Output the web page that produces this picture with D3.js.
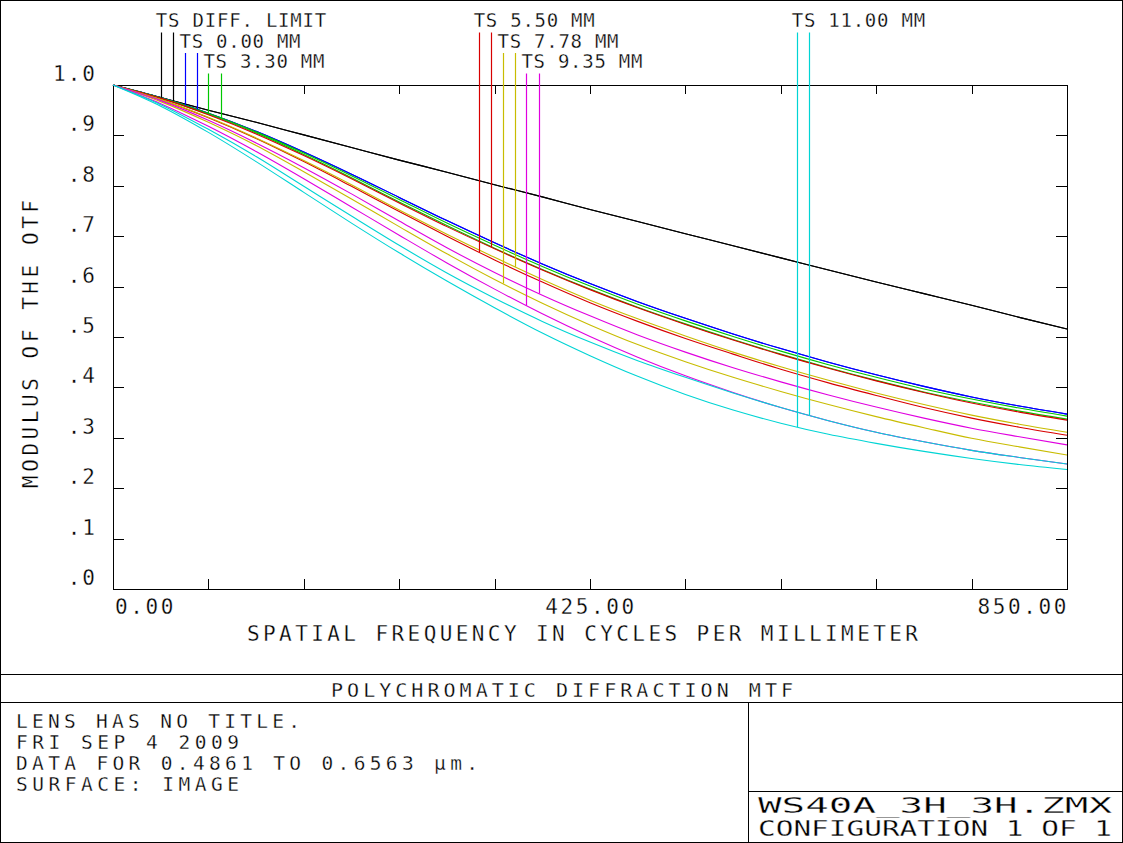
<!DOCTYPE html>
<html><head><meta charset="utf-8">
<script src="https://cdn.jsdelivr.net/npm/d3@7"></script>
<style>
html,body{margin:0;padding:0;background:#fff;}
svg{display:block;}
text{font-family:"DejaVu Sans Mono",monospace;fill:#000;stroke:#fff;stroke-width:0.3px;}
</style></head><body>
<svg id="c" width="1123" height="843"></svg>
<script>
// ---------- data ----------
const frequencies = [0,42.5,85,127.5,170,212.5,255,297.5,340,382.5,425,467.5,510,552.5,595,637.5,680,722.5,765,807.5,850];
const seriesNames = ["TS DIFF. LIMIT","TS 0.00 MM","TS 3.30 MM","TS 5.50 MM","TS 7.78 MM","TS 9.35 MM","TS 11.00 MM"];
const seriesColors = ["#000000","#0000ff","#00c800","#d80000","#c8bc00","#e000e0","#00d4d4"];
const mtfDiffT = [1.000,0.975,0.950,0.926,0.901,0.876,0.851,0.827,0.802,0.778,0.753,0.729,0.705,0.681,0.657,0.633,0.609,0.586,0.563,0.539,0.516];
const mtfDiffS = [1.000,0.975,0.950,0.926,0.901,0.876,0.851,0.827,0.802,0.778,0.753,0.729,0.705,0.681,0.657,0.633,0.609,0.586,0.563,0.539,0.516];
const mtf000T = [1.000,0.975,0.944,0.908,0.867,0.823,0.777,0.731,0.687,0.645,0.606,0.570,0.537,0.506,0.477,0.450,0.425,0.402,0.381,0.363,0.347];
const mtf000S = [1.000,0.975,0.944,0.908,0.867,0.823,0.777,0.731,0.687,0.645,0.606,0.570,0.537,0.506,0.477,0.450,0.425,0.402,0.381,0.363,0.347];
const mtf330T = [1.000,0.975,0.944,0.907,0.865,0.820,0.773,0.726,0.682,0.640,0.601,0.565,0.532,0.501,0.472,0.445,0.420,0.397,0.377,0.359,0.343];
const mtf330S = [1.000,0.974,0.942,0.905,0.862,0.816,0.768,0.721,0.676,0.634,0.595,0.559,0.526,0.495,0.466,0.439,0.414,0.391,0.371,0.353,0.337];
const mtf550T = [1.000,0.971,0.935,0.894,0.848,0.799,0.749,0.700,0.653,0.609,0.568,0.531,0.497,0.466,0.436,0.409,0.384,0.360,0.339,0.321,0.305];
const mtf550S = [1.000,0.974,0.941,0.903,0.860,0.814,0.766,0.719,0.675,0.633,0.594,0.558,0.525,0.494,0.465,0.438,0.413,0.390,0.369,0.351,0.335];
const mtf778T = [1.000,0.967,0.926,0.880,0.828,0.774,0.719,0.665,0.614,0.567,0.524,0.485,0.451,0.420,0.392,0.366,0.342,0.320,0.299,0.282,0.266];
const mtf778S = [1.000,0.971,0.936,0.895,0.850,0.802,0.752,0.704,0.658,0.614,0.573,0.536,0.502,0.470,0.441,0.414,0.389,0.366,0.345,0.327,0.311];
const mtf935T = [1.000,0.963,0.918,0.868,0.814,0.758,0.702,0.647,0.595,0.546,0.501,0.460,0.423,0.390,0.360,0.334,0.311,0.292,0.275,0.261,0.248];
const mtf935S = [1.000,0.969,0.930,0.885,0.836,0.784,0.730,0.677,0.628,0.583,0.542,0.504,0.470,0.439,0.411,0.385,0.361,0.339,0.319,0.302,0.286];
const mtf1100T = [1.000,0.958,0.906,0.848,0.787,0.726,0.667,0.611,0.558,0.508,0.463,0.422,0.386,0.355,0.329,0.307,0.289,0.273,0.259,0.247,0.237];
const mtf1100S = [1.000,0.961,0.912,0.858,0.799,0.740,0.682,0.627,0.577,0.531,0.490,0.453,0.420,0.389,0.360,0.334,0.311,0.292,0.275,0.261,0.248];
const yTickValues = [0,0.1,0.2,0.3,0.4,0.5,0.6,0.7,0.8,0.9,1.0];
const yTickLabels = [".0",".1",".2",".3",".4",".5",".6",".7",".8",".9","1.0"];
const xTickValues = [0,85,170,255,340,425,510,595,680,765,850];
const xLabelValues = [0,425,850];
const xLabelTexts = ["0.00","425.00","850.00"];
const legendGroups = [[0,1,2],[3,4,5],[6]];
const legendGroupFreq = [42.5,325.83,609.17];
const infoLines = ["LENS HAS NO TITLE.","FRI SEP 4 2009","DATA FOR 0.4861 TO 0.6563 \u03bcm.","SURFACE: IMAGE"];
const fileLines = ["WS40A_3H_3H.ZMX","CONFIGURATION 1 OF 1"];

const seriesData = [
  [mtfDiffT,mtfDiffS],[mtf000T,mtf000S],[mtf330T,mtf330S],[mtf550T,mtf550S],
  [mtf778T,mtf778S],[mtf935T,mtf935S],[mtf1100T,mtf1100S]
];

// ---------- drawing ----------
const W = 1123, H = 843;
const svg = d3.select("#c");
const x = d3.scaleLinear().domain([0,850]).range([113,1067]);
const y = d3.scaleLinear().domain([0,1]).range([589,85]);

function hline(x1,x2,yy){svg.append("line").attr("x1",x1).attr("x2",x2).attr("y1",yy).attr("y2",yy).attr("stroke","#000").attr("stroke-width",1).attr("shape-rendering","crispEdges");}
function vline(xx,y1,y2){svg.append("line").attr("x1",xx).attr("x2",xx).attr("y1",y1).attr("y2",y2).attr("stroke","#000").attr("stroke-width",1).attr("shape-rendering","crispEdges");}

// outer frame and info panel
svg.append("rect").attr("x",0.5).attr("y",0.5).attr("width",W-1).attr("height",H-1)
  .attr("fill","none").attr("stroke","#000").attr("shape-rendering","crispEdges");
hline(0,W,674.5);
hline(0,W,702.5);
vline(748.5,702,H);
hline(748,W,791.5);

// plot frame
svg.append("rect").attr("x",x(0)+0.5).attr("y",y(1)+0.5).attr("width",x(850)-x(0)).attr("height",y(0)-y(1))
  .attr("fill","none").attr("stroke","#000").attr("shape-rendering","crispEdges");

// ticks (inward)
const inner = yTickValues.slice(1,-1);
const innerX = xTickValues.slice(1,-1);
function styleAxis(g){g.select(".domain").remove();g.selectAll("line").attr("stroke","#000").attr("shape-rendering","crispEdges");}
svg.append("g").attr("transform",`translate(${x(0)},0)`).call(d3.axisLeft(y).tickValues(inner).tickSize(-11).tickFormat("")).call(styleAxis);
svg.append("g").attr("transform",`translate(${x(850)},0)`).call(d3.axisRight(y).tickValues(inner).tickSize(-11).tickFormat("")).call(styleAxis);
svg.append("g").attr("transform",`translate(0,${y(1)})`).call(d3.axisTop(x).tickValues(innerX).tickSize(-9).tickFormat("")).call(styleAxis);
svg.append("g").attr("transform",`translate(0,${y(0)})`).call(d3.axisBottom(x).tickValues(innerX).tickSize(-10).tickFormat("")).call(styleAxis);

// tick labels
svg.selectAll("text.ylab").data(yTickValues).enter().append("text")
  .attr("class","ylab").attr("x",97).attr("y",d=>y(d)-4)
  .attr("text-anchor","end").style("font-size","21px").style("letter-spacing","2px")
  .text((d,i)=>yTickLabels[i]);
svg.selectAll("text.xlab").data(xLabelValues).enter().append("text")
  .attr("class","xlab")
  .attr("x",(d,i)=> i===0 ? x(d)+2 : (i===1 ? x(d)+1 : x(d)+2))
  .attr("y",614)
  .attr("text-anchor",(d,i)=>["start","middle","end"][i])
  .style("font-size","21px").style("letter-spacing","2.6px")
  .text((d,i)=>xLabelTexts[i]);

// axis titles
svg.append("text").attr("x",247).attr("y",641).attr("textLength",671).attr("lengthAdjust","spacing")
  .style("font-size","21px").text("SPATIAL FREQUENCY IN CYCLES PER MILLIMETER");
svg.append("text").attr("transform","translate(38,488) rotate(-90)").attr("textLength",288).attr("lengthAdjust","spacing")
  .style("font-size","21px").text("MODULUS OF THE OTF");

// curves
const lineGen = d3.line().x((d,i)=>x(frequencies[i])).y(d=>y(d)).curve(d3.curveMonotoneX);
const curveG = svg.append("g");
seriesData.forEach((pair,si)=>{
  pair.forEach(arr=>{
    curveG.append("path").attr("d",lineGen(arr)).attr("fill","none")
      .attr("stroke",seriesColors[si]).attr("stroke-width",1.1);
  });
});

// interpolation of curve value at a frequency (for legend leader lines)
function valueAt(arr,f){
  const i = Math.min(frequencies.length-2, d3.bisectRight(frequencies,f)-1);
  const t = (f-frequencies[i])/(frequencies[i+1]-frequencies[i]);
  return arr[i]+(arr[i+1]-arr[i])*t;
}

// legend
const stepFreq = 21.25, tsOffset = 11;
legendGroups.forEach((grp,gi)=>{
  grp.forEach((si,row)=>{
    const fT = legendGroupFreq[gi] + row*stepFreq;
    const fS = fT + tsOffset;
    const base = 27 + row*20.5;
    const top = base + 5.5;
    [[fT,seriesData[si][0]],[fS,seriesData[si][1]]].forEach(([f,arr])=>{
      const xx = Math.round(x(f))+0.5;
      svg.append("line").attr("x1",xx).attr("x2",xx).attr("y1",top).attr("y2",y(valueAt(arr,f)))
        .attr("stroke",seriesColors[si]).attr("stroke-width",1.2);
    });
    const name = seriesNames[si];
    svg.append("text").attr("x",x(fT)-5).attr("y",base)
      .attr("textLength",name.length*12.4-3).attr("lengthAdjust","spacing")
      .style("font-size","19px").text(name);
  });
});

// info panel text
svg.append("text").attr("x",331).attr("y",697).attr("textLength",462).attr("lengthAdjust","spacing")
  .style("font-size","20px").text("POLYCHROMATIC DIFFRACTION MTF");
const infoW = [284,223,462,223];
infoLines.forEach((t,i)=>{
  svg.append("text").attr("x",16).attr("y",728+i*21).attr("textLength",infoW[i]).attr("lengthAdjust","spacing")
    .style("font-size","19.5px").text(t);
});
svg.append("text").attr("x",758).attr("y",813).attr("textLength",354).attr("lengthAdjust","spacingAndGlyphs")
  .style("font-size","22px").text(fileLines[0]);
svg.append("text").attr("x",758).attr("y",836).attr("textLength",354).attr("lengthAdjust","spacingAndGlyphs")
  .style("font-size","21px").text(fileLines[1]);
</script>
</body></html>
